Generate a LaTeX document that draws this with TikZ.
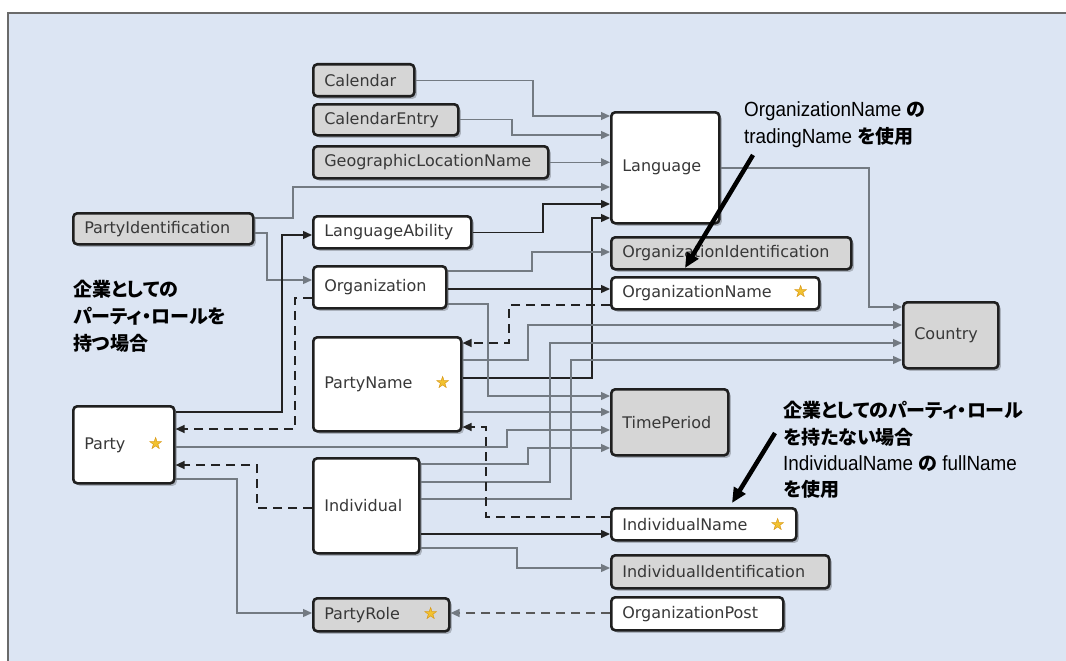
\documentclass[tikz,border=0pt]{standalone}
\usepackage{fontspec}
\setmainfont{DejaVu Sans}
\newfontfamily\annfont[FakeStretch=0.92]{Liberation Sans}
\newfontfamily\jpfont[RawFeature=+palt]{Noto Sans CJK JP}
\newfontfamily\starfont{DejaVu Sans}
\usetikzlibrary{arrows.meta,shadows}
\definecolor{bgblue}{HTML}{DCE5F3}
\definecolor{framec}{HTML}{6A6A6A}
\definecolor{boxgray}{HTML}{D6D6D6}
\definecolor{linegray}{HTML}{737A82}
\definecolor{lineblack}{HTML}{222222}
\definecolor{starfill}{HTML}{F2C230}
\definecolor{staredge}{HTML}{D08A10}
\newcommand{\starg}{\hskip 0pt plus 1fill{\starfont\fontsize{17}{17}\selectfont\rlap{\textcolor{starfill}{★}}\textcolor{staredge}{☆}}}
\newcommand{\jb}[1]{{\jpfont\bfseries\fontsize{19}{24}\selectfont #1}}
\tikzset{
  box/.style={draw=black!88, line width=2.6pt, rounded corners=4pt, fill=white,
    anchor=north west, inner xsep=11pt, inner ysep=0pt,
    font=\fontsize{16}{19}\selectfont, text=black!78,
    drop shadow={shadow xshift=2.5pt, shadow yshift=-2.5pt, opacity=0.22, fill=black}},
  gbox/.style={box, fill=boxgray},
  gl/.style={draw=linegray, line width=1.3pt, -{Triangle[length=9pt,width=8pt]}},
  bl/.style={draw=lineblack, line width=1.4pt, -{Triangle[length=9pt,width=8pt]}},
  dl/.style={bl, dash pattern=on 9pt off 6pt},
  dgl/.style={draw=black!65, line width=1.3pt, dash pattern=on 9pt off 6pt,
    -{Triangle[length=9pt,width=8pt,color=linegray]}},
  ann/.style={anchor=base west, inner sep=0pt, font=\annfont\fontsize{20.5}{24}\selectfont, text=black},
  jann/.style={anchor=base west, inner sep=0pt, font=\jpfont\bfseries\fontsize{19}{24}\selectfont, text=black},
  bigarrow/.style={draw=black, line width=4.5pt, -{Triangle[length=15pt,width=13pt]}}
}
\begin{document}
\begin{tikzpicture}[x=1pt,y=-1pt]
\useasboundingbox (0,0) rectangle (1066,661);
\fill[white] (0,0) rectangle (1066,661);
\fill[bgblue] (8,13) rectangle (1066,661);
\draw[framec, line width=1.5pt] (8,661) -- (8,13) -- (1066,13);

% nodes
\node[gbox, minimum width=101pt, minimum height=32pt, text width=79pt] (cal) at (312,63) {Calendar};
\node[gbox, minimum width=145pt, minimum height=31pt, text width=123pt] (calent) at (312,103) {CalendarEntry};
\node[gbox, minimum width=235pt, minimum height=32pt, text width=213pt] (geo) at (312,145) {GeographicLocationName};
\node[box, minimum width=158pt, minimum height=32pt, text width=136pt] (langab) at (312,215) {LanguageAbility};
\node[box, minimum width=133pt, minimum height=42pt, text width=111pt] (org) at (312,265) {Organization};
\node[gbox, minimum width=180pt, minimum height=31pt, text width=158pt] (pid) at (72,212) {PartyIdentification};
\node[box, minimum width=108pt, minimum height=111pt, text width=86pt] (lang) at (610,111) {Language};
\node[gbox, minimum width=240pt, minimum height=32pt, text width=218pt] (orgid) at (610,236) {OrganizationIdentification};
\node[box, minimum width=208pt, minimum height=32pt, text width=186pt] (orgname) at (610,276) {OrganizationName\starg};
\node[gbox, minimum width=95pt, minimum height=66pt, text width=73pt] (country) at (902,301) {Country};
\node[box, minimum width=101pt, minimum height=77pt, text width=79pt] (party) at (72,405) {Party\starg};
\node[box, minimum width=148pt, minimum height=94pt, text width=126pt] (pname) at (312,336) {PartyName\starg};
\node[box, minimum width=106pt, minimum height=95pt, text width=84pt] (indiv) at (312,457) {Individual};
\node[gbox, minimum width=117pt, minimum height=66pt, text width=95pt] (tp) at (610,388) {TimePeriod};
\node[box, minimum width=185pt, minimum height=32pt, text width=163pt] (iname) at (610,507) {IndividualName\starg};
\node[gbox, minimum width=218pt, minimum height=33pt, text width=196pt] (iid) at (610,554) {IndividualIdentification};
\node[box, minimum width=172pt, minimum height=33pt, text width=150pt] (opost) at (610,596) {OrganizationPost};
\node[gbox, minimum width=136pt, minimum height=33pt, text width=114pt] (prole) at (312,597) {PartyRole\starg};

% connectors
\draw[gl] (cal.east) -| (533,116) -- (lang.west |- 0,116);
\draw[gl] (calent.east) -| (512,135) -- (lang.west |- 0,135);
\draw[gl] (geo.east) -- (lang.west |- geo.east);
\draw[gl] (pid.east |- 0,218) -| (293,187) -- (lang.west |- 0,187);
\draw[bl] (langab.east) -| (543,204) -- (lang.west |- 0,204);
\draw[bl] (pname.east |- 0,378) -| (592,218) -- (lang.west |- 0,218);
\draw[gl] (pid.east |- 0,233) -| (267,280) -- (org.west |- 0,280);
\draw[bl] (party.east |- 0,412) -| (282,235) -- (langab.west |- 0,235);
\draw[dl] (org.west |- 0,298) -| (295,429) -- (party.east |- 0,429);
\draw[gl] (party.east |- 0,447) -| (507,430) -- (tp.west |- 0,430);
\draw[dl] (indiv.west |- 0,508) -| (257,465) -- (party.east |- 0,465);
\draw[gl] (party.east |- 0,479) -| (237,613) -- (prole.west |- 0,613);
\draw[dgl] (opost.west |- 0,613) -- (prole.east |- 0,613);
\draw[gl] (org.east |- 0,271) -| (532,252) -- (orgid.west |- 0,252);
\draw[bl] (org.east |- 0,289) -- (orgname.west |- 0,289);
\draw[dl] (orgname.west |- 0,305) -| (509,343) -- (pname.east |- 0,343);
\draw[gl] (org.east |- 0,304) -| (488,396) -- (tp.west |- 0,396);
\draw[gl] (pname.east |- 0,412) -- (tp.west |- 0,412);
\draw[gl] (indiv.east |- 0,464) -| (528,448) -- (tp.west |- 0,448);
\draw[gl] (lang.east |- 0,168) -| (869,307) -- (country.west |- 0,307);
\draw[gl] (pname.east |- 0,360) -| (528,325) -- (country.west |- 0,325);
\draw[gl] (indiv.east |- 0,482) -| (550,343) -- (country.west |- 0,343);
\draw[gl] (indiv.east |- 0,499) -| (571,360) -- (country.west |- 0,360);
\draw[dl] (iname.west |- 0,517) -| (486,427) -- (pname.east |- 0,427);
\draw[bl] (indiv.east |- 0,534) -- (iname.west |- 0,534);
\draw[gl] (indiv.east |- 0,548) -| (517,568) -- (iid.west |- 0,568);

% annotations
\node[ann] (t1) at (744,117) {OrganizationName \jb{の}};
\node[ann] (t2) at (744,143) {tradingName \jb{を使用}};
\node[jann] (t3) at (73,296) {企業としての};
\node[jann] (t4) at (73,323) {パーティ・ロールを};
\node[jann] (t5) at (73,350) {持つ場合};
\node[jann] (t6) at (783,417) {企業としてのパーティ・ロール};
\node[jann] (t7) at (783,444) {を持たない場合};
\node[ann] (t8) at (783,470) {IndividualName \jb{の} fullName};
\node[jann] (t9) at (783,496) {を使用};
\coordinate (a1s) at (753,155);
\coordinate (a1e) at (685,268);
\coordinate (a2s) at (775,433);
\coordinate (a2e) at (732,503);
\draw[bigarrow] (a1s) -- (a1e);
\draw[bigarrow] (a2s) -- (a2e);
\end{tikzpicture}
\end{document}
